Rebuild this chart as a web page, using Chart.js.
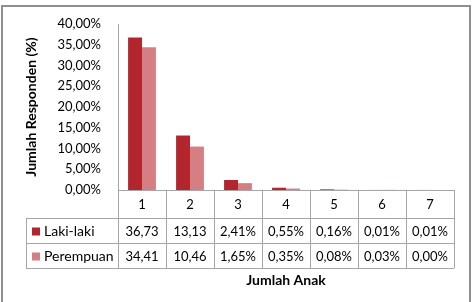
<!DOCTYPE html>
<html>
<head>
<meta charset="utf-8">
<script src="https://cdn.jsdelivr.net/npm/chart.js@4/dist/chart.umd.min.js"></script>
<style>
  html, body { margin: 0; padding: 0; background: #fff; }
  #wrap { width: 474px; height: 302px; }
</style>
</head>
<body>
<div id="wrap"><canvas id="chart" width="474" height="302"></canvas></div>
<script>
const categories = ['1', '2', '3', '4', '5', '6', '7'];
const lakiLaki = [36.73, 13.13, 2.41, 0.55, 0.16, 0.01, 0.01];
const perempuan = [34.41, 10.46, 1.65, 0.35, 0.08, 0.03, 0.00];
// the table under the chart shows the values as they were typed in the sheet
const lakiLakiLabels = ['36,73', '13,13', '2,41%', '0,55%', '0,16%', '0,01%', '0,01%'];
const perempuanLabels = ['34,41', '10,46', '1,65%', '0,35%', '0,08%', '0,03%', '0,00%'];
const seriesNames = ['Laki-laki', 'Perempuan'];
const seriesColors = ['#b3262e', '#d67f82'];

const FONT = 'Lato, "Open Sans", sans-serif';
const lineColor = '#a6a6a6';

// draws the data table, the frame and the x title
const tablePlugin = {
    id: 'dataTable',
    afterDraw(chart) {
        const ctx = chart.ctx;
        const x = chart.scales.x;
        const area = chart.chartArea;
        const half = (x.getPixelForValue(1) - x.getPixelForValue(0)) / 2;
        const rows = [area.bottom, area.bottom + 28, area.bottom + 53, area.bottom + 78];
        const legendLeft = 26;

        ctx.save();
        ctx.strokeStyle = lineColor;
        ctx.lineWidth = 1;
        ctx.beginPath();
        // horizontal lines
        ctx.moveTo(area.left, rows[0] + 0.5); ctx.lineTo(area.right, rows[0] + 0.5);
        for (let r = 1; r < rows.length; r++) {
            ctx.moveTo(legendLeft, rows[r] + 0.5); ctx.lineTo(area.right, rows[r] + 0.5);
        }
        // vertical lines
        ctx.moveTo(legendLeft + 0.5, rows[1]); ctx.lineTo(legendLeft + 0.5, rows[3]);
        ctx.moveTo(Math.round(area.left) + 0.5, rows[0]); ctx.lineTo(Math.round(area.left) + 0.5, rows[3]);
        categories.forEach((c, i) => {
            const px = Math.round(x.getPixelForValue(i) + half) + 0.5;
            ctx.moveTo(px, rows[0]); ctx.lineTo(px, rows[3]);
        });
        ctx.stroke();

        ctx.fillStyle = '#000';
        ctx.font = '13px ' + FONT;
        ctx.textAlign = 'center';
        ctx.textBaseline = 'middle';
        const tableRows = [categories, lakiLakiLabels, perempuanLabels];
        tableRows.forEach((row, r) => {
            const cy = (rows[r] + rows[r + 1]) / 2 + 1;
            row.forEach((t, i) => ctx.fillText(t, x.getPixelForValue(i), cy));
        });

        // legend keys in the first column
        ctx.textAlign = 'left';
        ctx.font = '14px ' + FONT;
        seriesNames.forEach((name, s) => {
            const cy = (rows[s + 1] + rows[s + 2]) / 2 + 1;
            ctx.fillStyle = seriesColors[s];
            ctx.fillRect(32, cy - 4, 8, 8);
            ctx.fillStyle = '#000';
            ctx.fillText(name, 44, cy);
        });

        // x axis title
        ctx.font = 'bold 14px ' + FONT;
        ctx.textAlign = 'center';
        ctx.fillText('Jumlah Anak', (area.left + area.right) / 2, rows[3] + 12);

        // outer frame
        ctx.strokeStyle = '#8f8f8f';
        ctx.lineWidth = 2;
        ctx.strokeRect(2, 6, 468, 300);
        ctx.restore();
    }
};

new Chart(document.getElementById('chart'), {
    type: 'bar',
    data: {
        labels: categories,
        datasets: [
            { label: seriesNames[0], data: lakiLaki, backgroundColor: seriesColors[0] },
            { label: seriesNames[1], data: perempuan, backgroundColor: seriesColors[1] }
        ]
    },
    options: {
        responsive: false,
        animation: false,
        categoryPercentage: 0.58,
        barPercentage: 1,
        layout: { padding: { left: 23, top: 24, right: 20, bottom: 112 } },
        plugins: {
            legend: { display: false },
            tooltip: { enabled: false }
        },
        scales: {
            x: { display: false },
            y: {
                min: 0,
                max: 40,
                ticks: {
                    stepSize: 5,
                    padding: 9,
                    color: '#000',
                    font: { family: FONT, size: 13 },
                    callback: v => v.toFixed(2).replace('.', ',') + '%'
                },
                grid: { display: false },
                border: { display: true, color: lineColor },
                title: {
                    display: true,
                    text: 'Jumlah Responden (%)',
                    color: '#000',
                    padding: 0,
                    font: { family: FONT, size: 14, weight: 'bold' }
                },
                afterFit(scale) { scale.width = 95; }
            }
        }
    },
    plugins: [tablePlugin]
});
</script>
</body>
</html>
